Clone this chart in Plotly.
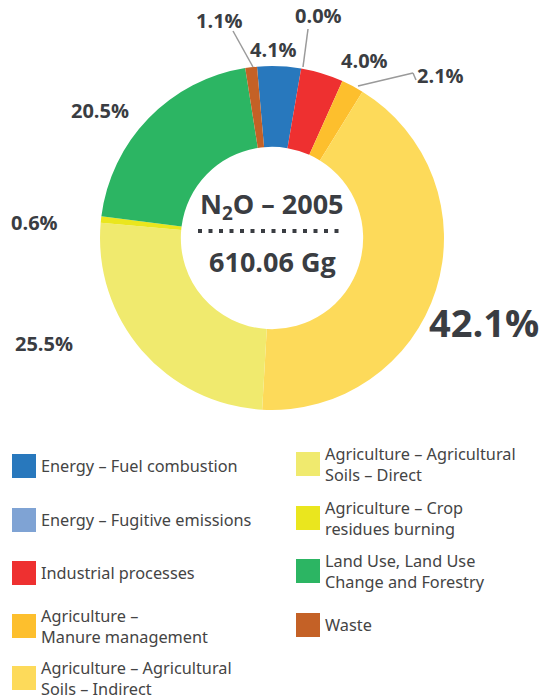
import plotly.graph_objects as go

categories = [
    "Energy – Fuel combustion",
    "Energy – Fugitive emissions",
    "Industrial processes",
    "Agriculture – Manure management",
    "Agriculture – Agricultural Soils – Indirect",
    "Agriculture – Agricultural Soils – Direct",
    "Agriculture – Crop residues burning",
    "Land Use, Land Use Change and Forestry",
    "Waste",
]
shares = [4.1, 0.0, 4.0, 2.1, 42.1, 25.5, 0.6, 20.5, 1.1]
colors = ["#2878BD", "#7FA3D4", "#EE3030", "#FDBF2D", "#FDDA5A",
          "#F0EA6E", "#EAE61E", "#2CB563", "#C46126"]
legend_text = [
    "Energy – Fuel combustion",
    "Energy – Fugitive emissions",
    "Industrial processes",
    "Agriculture –<br>Manure management",
    "Agriculture – Agricultural<br>Soils – Indirect",
    "Agriculture – Agricultural<br>Soils – Direct",
    "Agriculture – Crop<br>residues burning",
    "Land Use, Land Use<br>Change and Forestry",
    "Waste",
]
total_gg = "610.06"

W, H = 550, 698
def px(x):
    return x / W
def py(y):
    return 1 - y / H

fig = go.Figure()
fig.add_trace(go.Pie(
    labels=categories, values=shares, marker=dict(colors=colors, line=dict(width=0)),
    hole=0.53, sort=False, direction="clockwise", rotation=-5,
    textinfo="none", hoverinfo="label+percent", showlegend=False,
    domain=dict(x=[px(100), px(444)], y=[py(410), py(66)]),
))

label_font = dict(family="Open Sans", size=20, color="#3a3d42")
# label positions (pixels) for each slice
label_pos = [(273, 50), (318, 16), (364, 60), (440, 75), (484, 322),
             (44, 343), (34, 222), (100, 110), (219, 20)]
for v, (x, y) in zip(shares, label_pos):
    f = dict(label_font)
    if v > 40:
        f["size"] = 38
    fig.add_annotation(x=px(x), y=py(y), xref="paper", yref="paper",
                       text=f"<b>{v:.1f}%</b>", showarrow=False, font=f,
                       xanchor="center", yanchor="middle")

# leader lines
lines = [
    [(233, 31), (253, 67)],
    [(308, 29), (303, 67)],
    [(358, 86), (413, 73), (416, 80)],
]
for pts in lines:
    for (x0, y0), (x1, y1) in zip(pts[:-1], pts[1:]):
        fig.add_shape(type="line", xref="paper", yref="paper",
                      x0=px(x0), y0=py(y0), x1=px(x1), y1=py(y1),
                      line=dict(color="#9a9a9a", width=1.5))

# center text
fig.add_annotation(x=px(272), y=py(228), xref="paper", yref="paper",
                   text="<b>N<sub>2</sub>O – 2005</b>", showarrow=False,
                   yanchor="bottom",
                   font=dict(family="Open Sans", size=27, color="#3a3d42"))
fig.add_shape(type="line", xref="paper", yref="paper",
              x0=px(198), y0=py(231), x1=px(344), y1=py(231),
              line=dict(color="#3a3d42", width=4, dash="4px,6.5px"))
fig.add_annotation(x=px(272), y=py(261), xref="paper", yref="paper",
                   text=f"<b>{total_gg} Gg</b>", showarrow=False,
                   font=dict(family="Open Sans", size=27, color="#3a3d42"))

# legend
leg_pos = [(12, 466), (12, 520), (12, 573), (12, 626), (12, 678),
           (296, 464), (296, 518), (296, 571), (296, 625)]
for txt, c, (x, y) in zip(legend_text, colors, leg_pos):
    fig.add_shape(type="rect", xref="paper", yref="paper",
                  x0=px(x), x1=px(x + 24), y0=py(y + 12), y1=py(y - 12),
                  fillcolor=c, line=dict(width=0))
    fig.add_annotation(x=px(x + 27), y=py(y), xref="paper", yref="paper",
                       text=txt, showarrow=False, xanchor="left", yanchor="middle",
                       align="left",
                       font=dict(family="Noto Sans", size=16.3, color="#444444"))

fig.update_layout(width=W, height=H, margin=dict(l=0, r=0, t=0, b=0),
                  paper_bgcolor="white", plot_bgcolor="white")
fig.write_html("out.html", config={"displayModeBar": False},
               post_script="document.body.style.margin='0';document.body.style.padding='0';")
